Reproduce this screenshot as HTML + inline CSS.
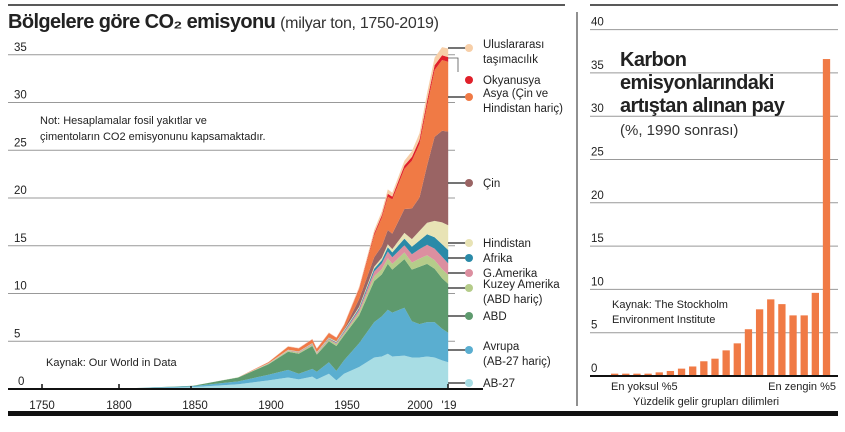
<!DOCTYPE html>
<html><head><meta charset="utf-8"><style>
body{margin:0;background:#fff;width:845px;height:427px;overflow:hidden;font-family:"Liberation Sans",sans-serif}
svg text{font-family:"Liberation Sans",sans-serif}
</style></head><body>
<svg id="s" width="845" height="427" xmlns="http://www.w3.org/2000/svg">
<rect width="845" height="427" fill="#fff"/>
<line x1="8" y1="5" x2="565" y2="5" stroke="#222" stroke-width="1.5"/>
<line x1="590" y1="5" x2="838" y2="5" stroke="#222" stroke-width="1.5"/>
<text x="8" y="28" font-size="20" font-weight="bold" fill="#222" letter-spacing="-0.6">Bölgelere göre CO₂ emisyonu <tspan font-weight="normal" font-size="16" fill="#333" letter-spacing="-0.3">(milyar ton, 1750-2019)</tspan></text>
<g id="grid" stroke="#999" stroke-width="1"></g>
<g id="areas"></g>
<g id="leg"></g>
<line x1="8" y1="389" x2="483" y2="389" stroke="#111" stroke-width="2"/>
<g font-size="11.5" fill="#222" text-anchor="middle">
<text x="42" y="409">1750</text><text x="119" y="409">1800</text><text x="195" y="409">1850</text><text x="271" y="409">1900</text><text x="347" y="409">1950</text><text x="420" y="409">2000</text><text x="449" y="409">'19</text>
</g>
<g stroke="#111" stroke-width="1.5"><line x1="42" y1="384" x2="42" y2="389"/><line x1="119" y1="384" x2="119" y2="389"/><line x1="191" y1="386" x2="191" y2="389"/><line x1="448" y1="384" x2="448" y2="389"/></g>
<text x="40" y="124" font-size="11" fill="#222">Not: Hesaplamalar fosil yakıtlar ve</text>
<text x="40" y="140" font-size="11" fill="#222">çimentoların CO2 emisyonunu kapsamaktadır.</text>
<text x="46" y="366" font-size="11" fill="#222">Kaynak: Our World in Data</text>
<line x1="577" y1="12" x2="577" y2="406" stroke="#222" stroke-width="1"/>
<g id="rg" stroke="#999"></g>
<g id="bars" fill="#f07a45"></g>
<line x1="590" y1="376" x2="838" y2="376" stroke="#111" stroke-width="2"/>
<g font-size="20" fill="#222" font-weight="600" letter-spacing="-0.6">
<text x="620" y="66">Karbon</text>
<text x="620" y="89">emisyonlarındaki</text>
<text x="620" y="112">artıştan alınan pay</text>
</g>
<text x="620" y="135" font-size="15" fill="#333">(%, 1990 sonrası)</text>
<text x="612" y="308" font-size="11" fill="#222">Kaynak: The Stockholm</text>
<text x="612" y="323" font-size="11" fill="#222">Environment Institute</text>
<text x="611" y="390" font-size="11" fill="#222">En yoksul %5</text>
<text x="836" y="390" font-size="11" fill="#222" text-anchor="end">En zengin %5</text>
<text x="706" y="405" font-size="11" fill="#222" text-anchor="middle">Yüzdelik gelir grupları dilimleri</text>
<rect x="8" y="411" width="830" height="5" fill="#111"/>
</svg>
<script>
var NS="http://www.w3.org/2000/svg";
function el(p,t,a,txt){var e=document.createElementNS(NS,t);for(var k in a)e.setAttribute(k,a[k]);if(txt!=null)e.textContent=txt;p.appendChild(e);return e;}
var g=document.getElementById('grid');
for(var v=5;v<=35;v+=5){var y=389-v*9.55;el(g,'line',{x1:8,y1:y,x2:455,y2:y});el(document.getElementById('s'),'text',{x:14,y:y-4,'font-size':11.5,fill:'#222'},v);}
el(document.getElementById('s'),'text',{x:18,y:385,'font-size':11.5,fill:'#222'},'0');
var Y=[1750,1800,1850,1880,1900,1913,1920,1929,1932,1940,1945,1950,1960,1970,1975,1979,1982,1990,1995,2000,2005,2010,2015,2019];
var L=[
['#a8dde4',[0,.02,.2,.5,.9,1.2,1.0,1.3,1.0,1.6,.9,1.6,2.3,3.3,3.4,3.7,3.4,3.5,3.3,3.3,3.4,3.3,3.0,2.8]],
['#5aaed0',[0,.01,.1,.3,.6,.8,.6,.8,.8,1.2,1.0,1.4,2.5,3.7,4.2,4.6,4.6,5.0,3.8,3.5,3.6,3.7,3.3,3.1]],
['#5e9a6e',[0,0,.05,.4,1.1,1.9,2.1,2.4,1.8,2.2,2.6,2.6,2.9,4.3,4.4,4.8,4.5,5.1,5.4,6.0,6.1,5.6,5.3,5.1]],
['#b5cc8a',[0,0,0,.02,.05,.1,.1,.12,.1,.15,.2,.2,.3,.5,.55,.6,.6,.7,.75,.85,.9,.9,.95,.95]],
['#dc8fa0',[0,0,0,0,.02,.05,.06,.08,.07,.1,.12,.15,.3,.5,.6,.7,.7,.75,.85,1.0,1.1,1.2,1.3,1.2]],
['#2a8aa8',[0,0,0,0,.01,.02,.02,.03,.03,.05,.06,.1,.15,.3,.35,.45,.5,.7,.8,.9,1.1,1.2,1.3,1.4]],
['#e8e3b5',[0,0,0,.01,.03,.05,.05,.06,.06,.08,.1,.1,.15,.2,.25,.3,.35,.6,.8,1.0,1.2,1.7,2.3,2.6]],
['#9a6464',[0,0,0,0,0,0,0,.02,.02,.05,.05,.08,.8,1.0,1.2,1.5,1.6,2.5,3.2,3.5,6.0,8.8,9.6,9.8]],
['#f07a45',[0,0,0,0,.1,.3,.3,.35,.3,.4,.3,.4,1.0,2.3,3.0,3.5,3.6,4.2,5.0,5.6,6.3,7.0,7.4,7.3]],
['#e0202a',[0,0,0,0,.01,.02,.02,.03,.03,.03,.03,.05,.1,.2,.25,.3,.3,.35,.4,.45,.5,.5,.5,.5]],
['#f7cfa8',[0,0,0,0,.02,.05,.05,.06,.06,.07,.05,.1,.2,.35,.4,.45,.4,.5,.6,.7,.8,.8,.85,.9]]];
function X(yr){return 42+(yr-1750)*1.51;}
var cum=Y.map(function(){return 0;});var ag=document.getElementById('areas');
L.forEach(function(l){var lo=cum.slice();for(var i=0;i<Y.length;i++)cum[i]+=l[1][i];
var d='';for(var i=0;i<Y.length;i++)d+=(i?'L':'M')+X(Y[i]).toFixed(1)+' '+(389-cum[i]*9.55).toFixed(1);
for(var i=Y.length-1;i>=0;i--)d+='L'+X(Y[i]).toFixed(1)+' '+(389-lo[i]*9.55).toFixed(1);
el(ag,'path',{d:d+'Z',fill:l[0]});});
var lg=document.getElementById('leg');
var leg=[['#f7cfa8',48,['Uluslararası','taşımacılık']],['#e0202a',80,['Okyanusya']],['#f07a45',97,['Asya (Çin ve','Hindistan hariç)']],['#9a6464',183,['Çin']],['#e8e3b5',243,['Hindistan']],['#2a8aa8',258,['Afrika']],['#dc8fa0',273,['G.Amerika']],['#b5cc8a',288,['Kuzey Amerika','(ABD hariç)']],['#5e9a6e',316,['ABD']],['#5aaed0',350,['Avrupa','(AB-27 hariç)']],['#a8dde4',383,['AB-27']]];
leg.forEach(function(o){if(o[1]!=80)el(lg,'line',{x1:448,y1:o[1],x2:466,y2:o[1],stroke:'#222','stroke-width':1.2});
el(lg,'circle',{cx:469,cy:o[1],r:4,fill:o[0]});
o[2].forEach(function(t,k){el(lg,'text',{x:483,y:o[1]+4+k*15-(o[2].length>1?4:0),'font-size':11.5,fill:'#222'},t);});});
el(lg,'polyline',{points:'448,58 458,58 458,72',fill:'none',stroke:'#555','stroke-width':0.8});
var rg=document.getElementById('rg'),s=document.getElementById('s');
for(var v=0;v<=40;v+=5){var y=376-v*8.66;if(v>0)el(rg,'line',{x1:590,y1:y,x2:838,y2:y});el(s,'text',{x:591,y:y-4,'font-size':11.5,fill:'#222'},v);}
var bv=[.27,.27,.27,.27,.42,.58,.85,1.1,1.7,2.0,2.96,3.77,5.4,7.7,8.85,8.3,7.0,7.0,9.6,36.6];
var bg=document.getElementById('bars');
bv.forEach(function(v,i){el(bg,'rect',{x:611+i*11.15,y:376-v*8.66,width:7.3,height:v*8.66});});
</script>
</body></html>
